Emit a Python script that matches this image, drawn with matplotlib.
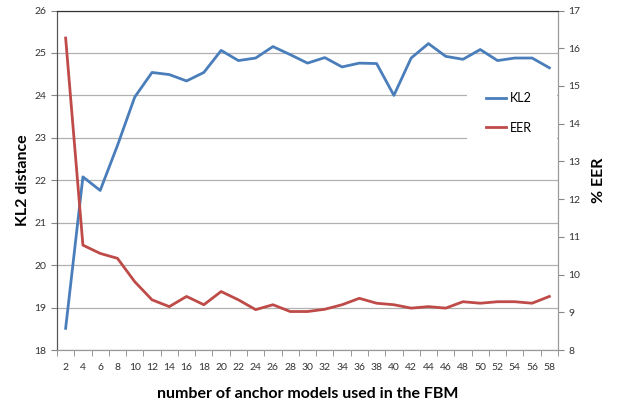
import numpy as np
import matplotlib
matplotlib.use("Agg")
import matplotlib.pyplot as plt
from matplotlib.patches import Rectangle

plt.rcParams['font.family'] = ['Lato', 'DejaVu Sans']

# data
anchors = list(range(2, 60, 2))
kl2 = [18.51, 22.08, 21.76, 22.82, 23.96, 24.54, 24.49, 24.34, 24.54, 25.06,
       24.82, 24.88, 25.15, 24.96, 24.76, 24.89, 24.67, 24.76, 24.75, 24.00,
       24.88, 25.22, 24.92, 24.85, 25.08, 24.82, 24.88, 24.88, 24.65]
eer = [16.27, 10.78, 10.56, 10.43, 9.81, 9.33, 9.15, 9.42, 9.20, 9.55,
       9.33, 9.07, 9.20, 9.02, 9.02, 9.08, 9.20, 9.37, 9.24, 9.20,
       9.11, 9.15, 9.11, 9.28, 9.24, 9.28, 9.28, 9.24, 9.42]

blue = '#4a7ebb'
red = '#be4b48'
tick_col = '#333333'

fig = plt.figure(figsize=(6.22, 4.04), dpi=100)
ax = fig.add_axes([57 / 622, 1 - 350 / 404, 501 / 622, 339.5 / 404])
ax2 = ax.twinx()

x = np.arange(len(anchors))
ax.plot(x, kl2, color=blue, lw=2.0, label='KL2', zorder=3)
ax2.plot(x, eer, color=red, lw=2.0, label='EER', zorder=3)

ax.set_xlim(-0.5, len(anchors) - 0.5)
ax.set_ylim(18, 26)
ax2.set_ylim(8, 17)
ax.set_yticks(range(18, 27))
ax2.set_yticks(range(8, 18))

ax.set_xticks(x)
ax.set_xticklabels([str(a) for a in anchors])
ax.set_xticks(np.arange(-0.5, len(anchors)), minor=True)
ax.tick_params(axis='x', which='major', length=0, pad=9, labelsize=7.5, colors=tick_col)
ax.tick_params(axis='x', which='minor', length=4, color='#888888')
ax.tick_params(axis='y', length=4, labelsize=7.5, colors=tick_col, color='#888888')
ax2.tick_params(axis='y', length=4, labelsize=7.5, colors=tick_col, color='#888888')

ax.yaxis.grid(True, color='#b0b0b0', lw=0.9)
ax.set_axisbelow(True)

for a in (ax, ax2):
    a.spines['top'].set_color('#333333')
    a.spines['left'].set_color('#555555')
    a.spines['bottom'].set_color('#999999')
    a.spines['right'].set_color('#999999')

ax.set_ylabel('KL2 distance', fontsize=11.5, fontweight='bold', labelpad=3)
ax2.set_ylabel('% EER', fontsize=11.5, fontweight='bold', labelpad=8)
ax.set_xlabel('number of anchor models used in the FBM', fontsize=11.5,
              fontweight='bold', labelpad=11)

# white area behind the legend hides the gridlines there
ax2.add_patch(Rectangle((0.818, 0.53), 0.18, 0.28, transform=ax2.transAxes,
                        facecolor='white', edgecolor='none', zorder=1))

h1, l1 = ax.get_legend_handles_labels()
h2, l2 = ax2.get_legend_handles_labels()
ax2.legend(h1 + h2, l1 + l2, loc='center left', bbox_to_anchor=(0.856, 0.698),
           frameon=False, fontsize=9, handlelength=1.6, handletextpad=0.3,
           labelspacing=1.4, borderpad=0, borderaxespad=0)

fig.savefig('out.png', dpi=100)
